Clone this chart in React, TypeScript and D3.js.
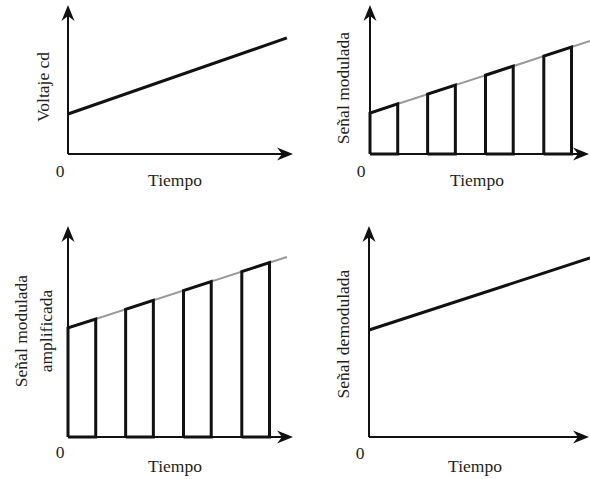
import React from "react";
import * as d3 from "d3";

// ---- data ----
const panelTitles = ["Voltaje cd", "Señal modulada", "Señal modulada\namplificada", "Señal demodulada"];
const xLabel = "Tiempo";
const originLabel = "0";
// straight signal (x in time units, y in amplitude units)
const lineStartX = [0, 0, 0, 0];
const lineEndX = [9.95, 10, 9.95, 10.05];
const lineStartY = [2.86, 2.93, 7.79, 7.64];
const lineEndY = [8.29, 8.07, 12.86, 12.79];
const pulseStarts = [0, 2.62, 5.25, 7.9];
const pulseWidth = 1.26;
const hasPulses = [false, true, true, false];

// ---- layout ----
const W = 590, H = 479;
const panels = [
  { ox: 68, oy: 154, top: 5, right: 293, lx: 43, ly: 87, zx: 60, zy: 177, tx: 175, ty: 186 },
  { ox: 370, oy: 154, top: 5, right: 589, lx: 343, ly: 88, zx: 361, zy: 177, tx: 477, ty: 186 },
  { ox: 68, oy: 437, top: 226, right: 293, lx: 33, ly: 331, zx: 60, zy: 458, tx: 175, ty: 472 },
  { ox: 369, oy: 437, top: 226, right: 589, lx: 343, ly: 334, zx: 360, zy: 459, tx: 475, ty: 472 },
];
const PX_X = 22, PX_Y = 14;
const font = "'Liberation Serif', 'DejaVu Serif', serif";
const textColor = "#231f20";

function arrowPath(x: number, y: number, dir: "up" | "right") {
  const L = 16, Wd = 6.5, N = 11;
  if (dir === "up") {
    return `M${x},${y} L${x + Wd},${y + L} L${x},${y + N} L${x - Wd},${y + L} Z`;
  }
  return `M${x},${y} L${x - L},${y - Wd} L${x - N},${y} L${x - L},${y + Wd} Z`;
}

function Panel({ i }: { i: number }) {
  const p = panels[i];
  const x = d3.scaleLinear().domain([0, 10]).range([p.ox, p.ox + 10 * PX_X]);
  const y = d3.scaleLinear().domain([0, 10]).range([p.oy, p.oy - 10 * PX_Y]);
  const slope = (lineEndY[i] - lineStartY[i]) / (lineEndX[i] - lineStartX[i]);
  const f = (t: number) => lineStartY[i] + slope * (t - lineStartX[i]);
  const line = d3.line<[number, number]>().x((d) => x(d[0])).y((d) => y(d[1]));
  const sig: [number, number][] = [[lineStartX[i], lineStartY[i]], [lineEndX[i], lineEndY[i]]];
  const titleLines = panelTitles[i].split("\n");
  return (
    <g>
      {/* axes */}
      <line x1={p.ox} y1={p.oy} x2={p.ox} y2={p.top + 10} stroke="#111" strokeWidth={2} />
      <line x1={p.ox} y1={p.oy} x2={p.right - 10} y2={p.oy} stroke="#111" strokeWidth={2} />
      <path d={arrowPath(p.ox, p.top, "up")} fill="#111" />
      <path d={arrowPath(p.right, p.oy, "right")} fill="#111" />
      {hasPulses[i] ? (
        <g>
          <path d={line(sig) || ""} stroke="#999" strokeWidth={2} fill="none" />
          {pulseStarts.map((s, k) => {
            const e = s + pulseWidth;
            const pts: [number, number][] = [[s, 0], [s, f(s)], [e, f(e)], [e, 0], [s, 0]];
            return (
              <path key={k} d={line(pts) || ""} stroke="#111" strokeWidth={3} fill="none" strokeLinejoin="miter" />
            );
          })}
        </g>
      ) : (
        <path d={line(sig) || ""} stroke="#111" strokeWidth={3} fill="none" />
      )}
      {/* labels */}
      <text x={p.zx} y={p.zy} textAnchor="middle" fontSize={17.5} fontFamily={font} fill={textColor}>{originLabel}</text>
      <text x={p.tx} y={p.ty} textAnchor="middle" fontSize={17.5} fontFamily={font} fill={textColor}>{xLabel}</text>
      <text
        transform={`translate(${p.lx},${p.ly}) rotate(-90)`}
        textAnchor="middle"
        fontSize={17.5}
        fontFamily={font}
        fill={textColor}
      >
        {titleLines.map((t, k) => (
          <tspan key={k} x={0} y={(k - (titleLines.length - 1) / 2) * 25} dominantBaseline="central">{t}</tspan>
        ))}
      </text>
    </g>
  );
}

export default function App() {
  return (
    <svg width={W} height={H} style={{ position: "absolute", left: 0, top: 0, background: "#fff" }}>
      <rect width={W} height={H} fill="#fff" />
      {panels.map((_, i) => <Panel key={i} i={i} />)}
    </svg>
  );
}
